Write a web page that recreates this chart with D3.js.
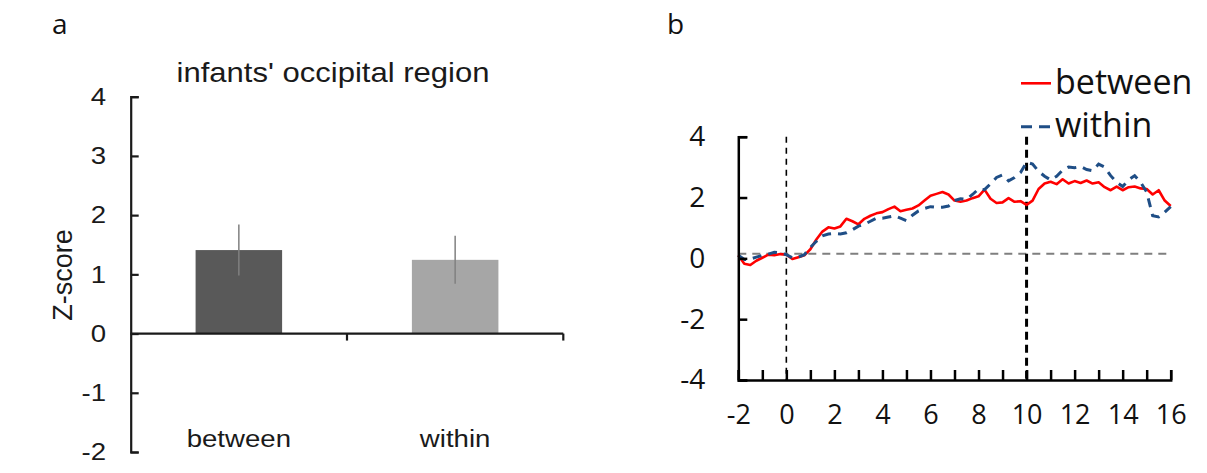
<!DOCTYPE html>
<html><head><meta charset="utf-8">
<script src="https://cdn.jsdelivr.net/npm/d3@7"></script>
<style>body{margin:0;background:#fff}</style>
</head><body>
<svg id="chart" width="1207" height="473"></svg>
<script>
// ---------- Panel a data ----------
const barCategories = ["between", "within"];
const barValues = [1.41, 1.245];
const barErrors = [0.43, 0.405];
const barColors = ["#595959", "#a6a6a6"];
const barYTicks = [-2, -1, 0, 1, 2, 3, 4];
const barTitle = "infants' occipital region";
const barYLabel = "Z-score";

// ---------- Panel b data ----------
const timePoints = [-2, -1.75, -1.5, -1.25, -1, -0.75, -0.5, -0.25, 0, 0.25, 0.5, 0.75,
  1, 1.25, 1.5, 1.75, 2, 2.25, 2.5, 2.75, 3, 3.25, 3.5, 3.75, 4, 4.25, 4.5, 4.75,
  5, 5.25, 5.5, 5.75, 6, 6.25, 6.5, 6.75, 7, 7.25, 7.5, 7.75, 8, 8.25, 8.5, 8.75,
  9, 9.25, 9.5, 9.75, 10, 10.25, 10.5, 10.75, 11, 11.25, 11.5, 11.75, 12, 12.25, 12.5, 12.75,
  13, 13.25, 13.5, 13.75, 14, 14.25, 14.5, 14.75, 15, 15.25, 15.5, 15.75, 16];
const betweenValues = [0.10, -0.18, -0.22, -0.08, 0.02, 0.12, 0.10, 0.14, 0.12, -0.02, 0.04, 0.10,
  0.30, 0.62, 0.88, 1.02, 0.98, 1.05, 1.30, 1.22, 1.12, 1.30, 1.40, 1.48, 1.52, 1.62, 1.70, 1.55,
  1.60, 1.64, 1.74, 1.90, 2.06, 2.12, 2.18, 2.10, 1.90, 1.86, 1.90, 1.98, 2.04, 2.26, 1.96, 1.82,
  1.84, 1.98, 1.86, 1.88, 1.76, 1.90, 2.28, 2.46, 2.52, 2.44, 2.60, 2.46, 2.54, 2.48, 2.56, 2.46,
  2.50, 2.34, 2.24, 2.36, 2.24, 2.34, 2.36, 2.30, 2.28, 2.10, 2.24, 1.90, 1.72];
const withinValues = [0.10, -0.04, -0.02, 0.04, 0.10, 0.14, 0.20, 0.18, 0.12, 0.02, 0.04, 0.12,
  0.36, 0.56, 0.74, 0.80, 0.82, 0.80, 0.84, 0.94, 1.06, 1.12, 1.22, 1.32, 1.32, 1.36, 1.40, 1.32,
  1.24, 1.42, 1.56, 1.64, 1.70, 1.68, 1.68, 1.72, 1.90, 1.96, 1.94, 2.10, 2.28, 2.26, 2.45, 2.66,
  2.74, 2.55, 2.66, 2.82, 3.16, 3.10, 2.86, 2.70, 2.58, 2.70, 2.90, 3.00, 2.98, 3.02, 2.92, 2.88,
  3.10, 3.00, 2.72, 2.50, 2.36, 2.58, 2.72, 2.50, 2.18, 1.40, 1.36, 1.52, 1.70];
const seriesNames = ["between", "within"];
const lineXTicks = [-2, -1, 0, 1, 2, 3, 4, 5, 6, 7, 8, 9, 10, 11, 12, 13, 14, 15, 16];
const lineXTickLabels = [-2, 0, 2, 4, 6, 8, 10, 12, 14, 16];
const lineYTicks = [-4, -2, 0, 2, 4];
const markerTimes = [0, 10];
const zeroRef = 0.15;
const panelLabels = ["a", "b"];

// ---------- drawing ----------
const svg = d3.select("#chart");
const SX = 1.15; // horizontal stretch of panel a text
const INK = "#1a1a1a";

// Panel a
const ay = d3.scaleLinear().domain([-2, 4]).range([452, 96.7]);
const ax = d3.scaleBand().domain(barCategories).range([130.7, 563.3]).paddingInner(0.6).paddingOuter(0.3);
const gA = svg.append("g").attr("font-family", "'Liberation Sans', Arial, sans-serif");

gA.selectAll("rect.bar").data(barCategories).join("rect").attr("class", "bar")
  .attr("x", d => ax(d)).attr("width", ax.bandwidth())
  .attr("y", (d, i) => ay(barValues[i]))
  .attr("height", (d, i) => ay(0) - ay(barValues[i]))
  .attr("fill", (d, i) => barColors[i]);

gA.selectAll("line.err").data(barCategories).join("line").attr("class", "err")
  .attr("x1", d => ax(d) + ax.bandwidth() / 2).attr("x2", d => ax(d) + ax.bandwidth() / 2)
  .attr("y1", (d, i) => ay(barValues[i] + barErrors[i]))
  .attr("y2", (d, i) => ay(barValues[i] - barErrors[i]))
  .attr("stroke", "#808080").attr("stroke-width", 1.5);

const yAxisA = gA.append("g").attr("transform", `translate(${ax.range()[0]},0)`)
  .call(d3.axisLeft(ay).tickValues(barYTicks).tickFormat(d => String(d))
    .tickSizeInner(-8).tickSizeOuter(-8).tickPadding(21.5));
yAxisA.selectAll("path,line").attr("stroke", INK).attr("stroke-width", 2.2);
yAxisA.selectAll("text").attr("font-size", 24).attr("fill", INK)
  .attr("font-family", "'Liberation Sans', Arial, sans-serif")
  .attr("transform", `scale(${SX},1)`);

// x axis line at zero with boundary ticks
gA.append("line").attr("x1", ax.range()[0]).attr("x2", ax.range()[1])
  .attr("y1", ay(0)).attr("y2", ay(0)).attr("stroke", INK).attr("stroke-width", 2.2);
gA.selectAll("line.bt").data(barCategories).join("line").attr("class", "bt")
  .attr("x1", d => ax(d) + ax.bandwidth() / 2 + ax.step() / 2)
  .attr("x2", d => ax(d) + ax.bandwidth() / 2 + ax.step() / 2)
  .attr("y1", ay(0)).attr("y2", ay(0) + 7).attr("stroke", INK).attr("stroke-width", 2.2);

gA.selectAll("text.cat").data(barCategories).join("text").attr("class", "cat")
  .attr("transform", d => `translate(${ax(d) + ax.bandwidth() / 2},447) scale(${SX},1)`)
  .attr("text-anchor", "middle").attr("font-size", 24).attr("fill", INK).text(d => d);

gA.append("text").attr("transform", `translate(333,82) scale(${SX},1)`)
  .attr("text-anchor", "middle").attr("font-size", 27).attr("fill", INK).text(barTitle);

gA.append("text").attr("transform", "translate(72,275) rotate(-90)")
  .attr("text-anchor", "middle").attr("font-size", 27).attr("fill", INK).text(barYLabel);

svg.append("text").attr("x", 52).attr("y", 34).attr("font-family", "'Open Sans', sans-serif")
  .attr("font-size", 28).attr("fill", "#111").text(panelLabels[0]);
svg.append("text").attr("x", 667).attr("y", 34).attr("font-family", "'Open Sans', sans-serif")
  .attr("font-size", 28).attr("fill", "#111").text(panelLabels[1]);

// Panel b
const bx = d3.scaleLinear().domain([-2, 16]).range([738.3, 1170.7]);
const by = d3.scaleLinear().domain([-4, 4]).range([380, 136.7]);
const gB = svg.append("g").attr("font-family", "'Open Sans', sans-serif");

gB.append("line").attr("x1", bx(-2)).attr("x2", bx(16))
  .attr("y1", by(zeroRef)).attr("y2", by(zeroRef))
  .attr("stroke", "#7f7f7f").attr("stroke-width", 2).attr("stroke-dasharray", "8,6");

gB.selectAll("line.marker").data(markerTimes).join("line").attr("class", "marker")
  .attr("x1", d => bx(d)).attr("x2", d => bx(d))
  .attr("y1", by(4)).attr("y2", by(-4))
  .attr("stroke", "#000").attr("stroke-width", (d, i) => i === 0 ? 1.6 : 3)
  .attr("stroke-dasharray", (d, i) => i === 0 ? "6,5" : "8,5");

const lineGen = vals => d3.line().x((d, i) => bx(timePoints[i])).y(d => by(d))(vals);
gB.append("path").attr("d", lineGen(betweenValues)).attr("fill", "none")
  .attr("stroke", "#ff0000").attr("stroke-width", 2.6).attr("stroke-linejoin", "round");
gB.append("path").attr("d", lineGen(withinValues)).attr("fill", "none")
  .attr("stroke", "#1f4e86").attr("stroke-width", 3).attr("stroke-dasharray", "9,7");

const yAxisB = gB.append("g").attr("transform", `translate(${bx(-2)},0)`)
  .call(d3.axisLeft(by).tickValues(lineYTicks).tickFormat(d => String(d))
    .tickSizeInner(-9).tickSizeOuter(-9).tickPadding(33));
yAxisB.selectAll("path,line").attr("stroke", "#000").attr("stroke-width", 2.5);
yAxisB.selectAll("text").attr("font-size", 28).attr("fill", "#111")
  .attr("font-family", "'Open Sans', sans-serif");

const xAxisB = gB.append("g").attr("transform", `translate(0,${by(-4)})`)
  .call(d3.axisBottom(bx).tickValues(lineXTicks).tickFormat("")
    .tickSizeInner(-10).tickSizeOuter(-10));
xAxisB.selectAll("path,line").attr("stroke", "#000").attr("stroke-width", 2.5);

const xLabB = gB.append("g").attr("transform", `translate(0,${by(-4)})`)
  .call(d3.axisBottom(bx).tickValues(lineXTickLabels).tickFormat(d => String(d))
    .tickSize(0).tickPadding(25));
xLabB.select(".domain").remove();
xLabB.selectAll("text").attr("font-size", 27).attr("fill", "#111")
  .attr("font-family", "'Open Sans', sans-serif");

// Legend
const legY = [83.3, 126.7];
const legStyles = [{c: "#ff0000", w: 2.6, dash: null}, {c: "#1f4e86", w: 3, dash: "11,7"}];
seriesNames.forEach((name, i) => {
  gB.append("line").attr("x1", 1021).attr("x2", 1051).attr("y1", legY[i]).attr("y2", legY[i])
    .attr("stroke", legStyles[i].c).attr("stroke-width", legStyles[i].w)
    .attr("stroke-dasharray", legStyles[i].dash);
  gB.append("text").attr("x", 1055).attr("y", legY[i] + 10.5).attr("font-size", 34)
    .attr("fill", "#111").text(name);
});
</script>
</body></html>
